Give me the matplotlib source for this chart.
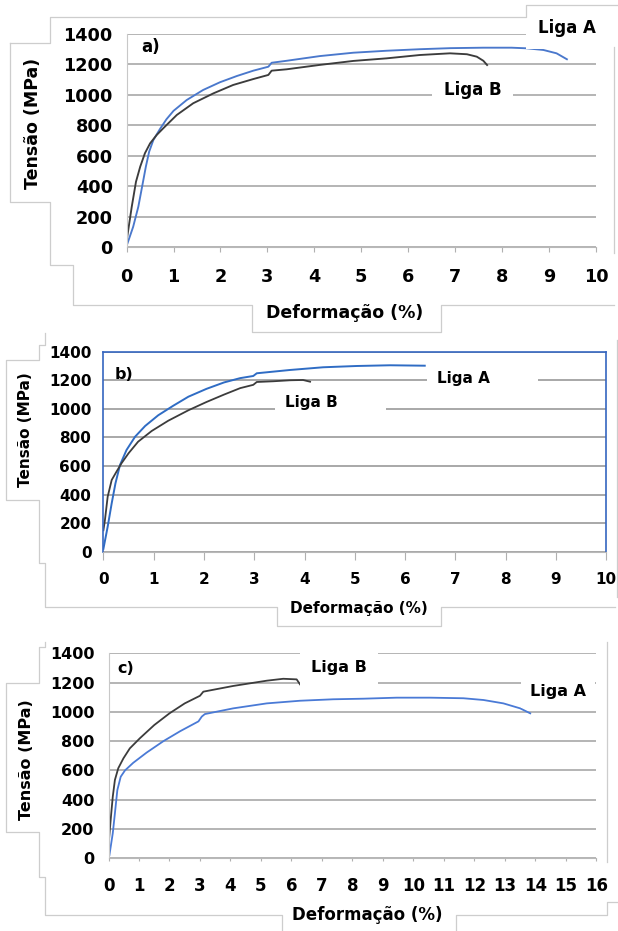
import matplotlib.pyplot as plt
from matplotlib.lines import Line2D

plt.rcParams['font.family'] = ['DejaVu Sans']
plt.rcParams['font.weight'] = 'bold'

W, H = 618, 931

# ---- panel a) ----
a_strain_A = [0.02, 0.14, 0.25, 0.33, 0.41, 0.48, 0.57, 0.71, 0.85, 1.0, 1.28, 1.63, 1.99,
              2.35, 2.7, 3.02, 3.09, 3.41, 4.12, 4.83, 5.54, 6.25, 6.9, 7.6, 8.2, 8.52,
              8.88, 9.16, 9.38]
a_stress_A = [25, 133, 265, 396, 528, 626, 703, 775, 840, 895, 966, 1032, 1083,
              1124, 1159, 1185, 1211, 1224, 1255, 1277, 1290, 1300, 1307, 1310, 1310, 1306,
              1295, 1273, 1234]
a_strain_B = [0.01, 0.11, 0.2, 0.29, 0.39, 0.5, 0.64, 0.78, 1.07, 1.42, 1.85, 2.27, 2.7,
              3.02, 3.09, 3.41, 4.12, 4.83, 5.54, 6.25, 6.89, 7.25, 7.46, 7.6, 7.68]
a_stress_B = [60, 265, 429, 528, 616, 681, 736, 780, 868, 945, 1010, 1065, 1104,
              1131, 1159, 1168, 1197, 1223, 1240, 1262, 1273, 1267, 1251, 1224, 1196]

# ---- panel b) ----
b_strain_A = [0.0, 0.085, 0.165, 0.24, 0.33, 0.46, 0.63, 0.83, 1.09, 1.39, 1.69, 2.05,
              2.4, 2.72, 2.98, 3.05, 3.71, 4.37, 5.04, 5.7, 6.39]
b_stress_A = [20, 175, 339, 479, 607, 712, 805, 880, 955, 1022, 1085, 1140,
              1185, 1215, 1230, 1249, 1272, 1291, 1300, 1305, 1302]
b_strain_B = [0.0, 0.03, 0.085, 0.165, 0.26, 0.36, 0.5, 0.69, 0.96, 1.29, 1.69, 2.05,
              2.4, 2.72, 2.98, 3.05, 3.38, 3.71, 3.97, 4.11]
b_stress_B = [150, 220, 385, 502, 560, 619, 689, 770, 845, 917, 990, 1048,
              1100, 1145, 1168, 1188, 1193, 1200, 1202, 1190]

# ---- panel c) ----
c_strain_A = [0.03, 0.14, 0.21, 0.29, 0.4, 0.54, 0.81, 1.25, 1.8, 2.35, 2.95, 3.06, 3.16,
              4.09, 5.19, 6.28, 7.37, 8.36, 9.45, 10.55, 11.64, 12.3, 12.95, 13.5, 13.83]
c_stress_A = [22, 171, 307, 466, 557, 600, 652, 722, 800, 868, 935, 968, 985,
              1024, 1058, 1076, 1086, 1090, 1097, 1097, 1093, 1081, 1058, 1024, 990]
c_strain_B = [0.0, 0.016, 0.08, 0.14, 0.21, 0.32, 0.49, 0.7, 1.03, 1.5, 2.0, 2.5, 3.0,
              3.11, 4.09, 5.19, 5.73, 6.17, 6.28]
c_stress_B = [40, 125, 284, 421, 535, 615, 683, 751, 820, 910, 990, 1058, 1110,
              1138, 1177, 1213, 1226, 1222, 1188]

yticks = [0, 200, 400, 600, 800, 1000, 1200, 1400]


def fx(px):
    return px / W


def fy(py):
    return 1 - py / H


fig = plt.figure(figsize=(W / 100, H / 100), dpi=100)


def outline(pts):
    fig.add_artist(Line2D([fx(p[0]) for p in pts], [fy(p[1]) for p in pts],
                          transform=fig.transFigure, color='#cdcdcd', lw=0.9))


def setup(box, xmax, gridcol, fs_y, fs_x, ticklen, padx, pady):
    l, r, t, b = box
    ax = fig.add_axes([fx(l), fy(b), fx(r) - fx(l), fy(t) - fy(b)])
    ax.set_xlim(0, xmax)
    ax.set_ylim(0, 1400)
    ax.set_xticks(range(0, xmax + 1))
    ax.set_yticks(yticks)
    ax.set_axisbelow(True)
    ax.yaxis.grid(True, color=gridcol, lw=1.2)
    for s in ['top', 'right']:
        ax.spines[s].set_visible(False)
    ax.spines['left'].set_color('#c8c8c8')
    ax.spines['bottom'].set_color('#b8b8b8')
    ax.tick_params(axis='y', length=0, pad=pady, labelsize=fs_y)
    ax.tick_params(axis='x', length=ticklen, color='#b0b0b0', pad=padx, labelsize=fs_x)
    return ax


def label(ax, x, y, s, fs, pad=0.7, ha='center'):
    ax.text(x, y, s, fontsize=fs, fontweight='bold', ha=ha, va='center', clip_on=False,
            zorder=5, bbox=dict(facecolor='white', edgecolor='none',
                                boxstyle='square,pad=%s' % pad))


blue_a = '#4a78cc'
black = '#3c3c3c'

# a)
ax = setup((126.6, 596, 34, 247), 10, '#a8a8a8', 12.7, 12.7, 3.6, 11.5, 10)
ax.plot(a_strain_A, a_stress_A, color=blue_a, lw=1.35)
ax.plot(a_strain_B, a_stress_B, color=black, lw=1.35)
label(ax, 9.38, 1439, 'Liga A', 12)
label(ax, 7.37, 1032, 'Liga B', 12)
ax.text(0.5, 1317, 'a)', fontsize=12, fontweight='bold', ha='center', va='center')
fig.text(fx(33.5), fy(123), 'Tensão (MPa)', rotation=90, fontsize=12.5,
         fontweight='bold', ha='center', va='center')
fig.text(fx(345), fy(313), 'Deformação (%)', fontsize=12.5,
         fontweight='bold', ha='center', va='center')

# b)
ax = setup((103.4, 606.3, 351.7, 551.7), 10, '#9a9a9a', 11, 11, 5.8, 9, 8.6)
for s in ['top', 'right', 'left']:
    ax.spines[s].set_visible(True)
    ax.spines[s].set_color('#3566c0')
    ax.spines[s].set_linewidth(1.2)
ax.plot(b_strain_A, b_stress_A, color='#2f6cc4', lw=1.4)
ax.plot(b_strain_B, b_stress_B, color=black, lw=1.3)
label(ax, 6.64, 1214, 'Liga A       ', 11, ha='left')
label(ax, 3.62, 1045, 'Liga B       ', 11, ha='left')
ax.text(0.41, 1237, 'b)', fontsize=11.5, fontweight='bold', ha='center', va='center')
fig.text(fx(25.6), fy(430), 'Tensão (MPa)', rotation=90, fontsize=11,
         fontweight='bold', ha='center', va='center')
fig.text(fx(359), fy(608), 'Deformação (%)', fontsize=11,
         fontweight='bold', ha='center', va='center')

# c)
ax = setup((108.5, 596.4, 653.3, 858.3), 16, '#a8a8a8', 11.5, 12, 2.2, 11.5, 10)
ax.plot(c_strain_A, c_stress_A, color='#4a7ad6', lw=1.3)
ax.plot(c_strain_B, c_stress_B, color=black, lw=1.3)
label(ax, 7.57, 1304, 'Liga B', 11.5)
label(ax, 14.75, 1138, 'Liga A', 11.5, pad=0.55)
ax.text(0.55, 1297, 'c)', fontsize=11.5, fontweight='bold', ha='center', va='center')
fig.text(fx(26.8), fy(760), 'Tensão (MPa)', rotation=90, fontsize=11.5,
         fontweight='bold', ha='center', va='center')
fig.text(fx(367), fy(915), 'Deformação (%)', fontsize=12,
         fontweight='bold', ha='center', va='center')

# faint outlines of the pasted-together panels
outline([(10, 43), (50, 43), (50, 16.7), (526, 16.7), (526, 5), (618, 5)])
outline([(10, 43), (10, 202), (50, 202), (50, 265), (73, 265), (73, 305), (252, 305),
         (252, 332), (441, 332), (441, 305), (614, 305)])
outline([(614, 47), (614, 253)])
outline([(44.6, 333), (44.6, 345), (39.4, 345), (39.4, 360), (6, 360), (6, 500),
         (39.4, 500), (39.4, 563), (44.6, 563), (44.6, 607), (277, 607), (277, 626),
         (441, 626), (441, 607), (615, 607)])
outline([(617, 340), (617, 597)])
outline([(44.6, 642), (44.6, 647), (39.4, 647), (39.4, 683), (6, 683), (6, 832),
         (39.4, 832), (39.4, 877), (44.6, 877), (44.6, 915), (282, 915), (282, 931)])
outline([(456, 931), (456, 915), (607, 915), (607, 902), (618, 902)])
outline([(607, 642), (607, 862)])

fig.savefig('out.png', dpi=100)
